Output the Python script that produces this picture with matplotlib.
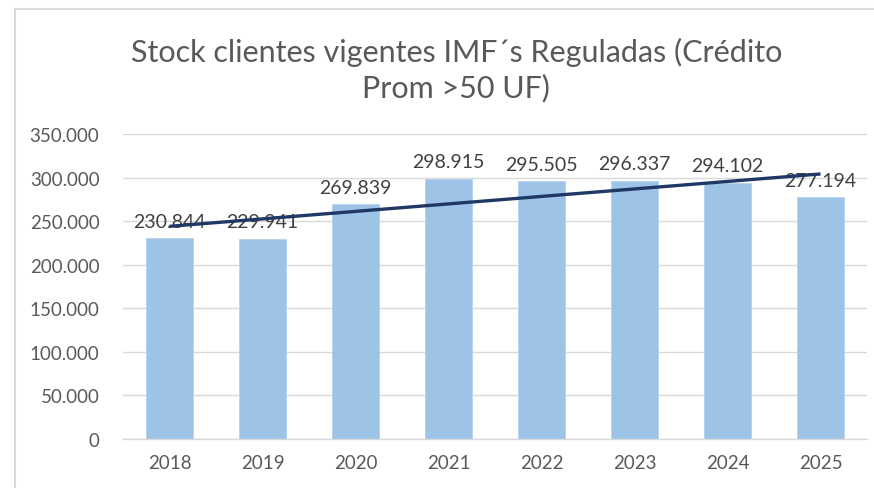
import matplotlib.pyplot as plt
import numpy as np
from matplotlib.patches import Rectangle
from matplotlib.ticker import FuncFormatter

# Datos
years = ['2018', '2019', '2020', '2021', '2022', '2023', '2024', '2025']
clientes = [230844, 229941, 269839, 298915, 295505, 296337, 294102, 277194]
title = "Stock clientes vigentes IMF´s Reguladas (Crédito\nProm >50 UF)"

bar_color = '#9DC3E6'
line_color = '#203864'
text_color = '#595959'
grid_color = '#D9D9D9'

plt.rcParams['font.family'] = ['Lato', 'DejaVu Sans']


def miles(v, pos=None):
    return f'{int(round(v)):,}'.replace(',', '.')


fig = plt.figure(figsize=(8.74, 4.89), dpi=100)
ax = fig.add_axes([0.1407, 0.1002, 0.8513, 0.6237])

x = np.arange(len(years))
ax.bar(x, clientes, width=0.5, color=bar_color, edgecolor='#B4D2EE', linewidth=0.6, zorder=2)

# Línea de tendencia lineal
coef = np.polyfit(x, clientes, 1)
ax.plot(x, np.polyval(coef, x), color=line_color, linewidth=2.4, zorder=4,
        solid_capstyle='butt')

for xi, v in zip(x, clientes):
    ax.annotate(miles(v), (xi, v), xytext=(0, 6), textcoords='offset points',
                ha='center', va='bottom', fontsize=14, color='#404040', zorder=3)

ax.set_xlim(-0.5, len(years) - 0.5)
ax.set_ylim(0, 350000)
ax.set_yticks(np.arange(0, 350001, 50000))
ax.yaxis.set_major_formatter(FuncFormatter(miles))
ax.set_xticks(x)
ax.set_xticklabels(years)
ax.tick_params(axis='both', length=0, labelsize=13.5, colors=text_color)
ax.tick_params(axis='y', pad=17)
ax.tick_params(axis='x', pad=11)
ax.grid(axis='y', color=grid_color, linewidth=1, zorder=0)
ax.set_axisbelow(True)
for side in ['top', 'right', 'left']:
    ax.spines[side].set_visible(False)
ax.spines['bottom'].set_color(grid_color)
ax.spines['bottom'].set_linewidth(1)

fig.text(0.522, 0.857, title, ha='center', va='center', fontsize=22,
         color=text_color, linespacing=1.3)

# Borde del área del gráfico
fig.patches.append(Rectangle((15 / 874, -0.1), 1.2, 1 - 10 / 489 + 0.1,
                             transform=fig.transFigure, fill=False,
                             edgecolor='#D9D9D9', linewidth=1.5))

fig.savefig('out.png', dpi=100)
